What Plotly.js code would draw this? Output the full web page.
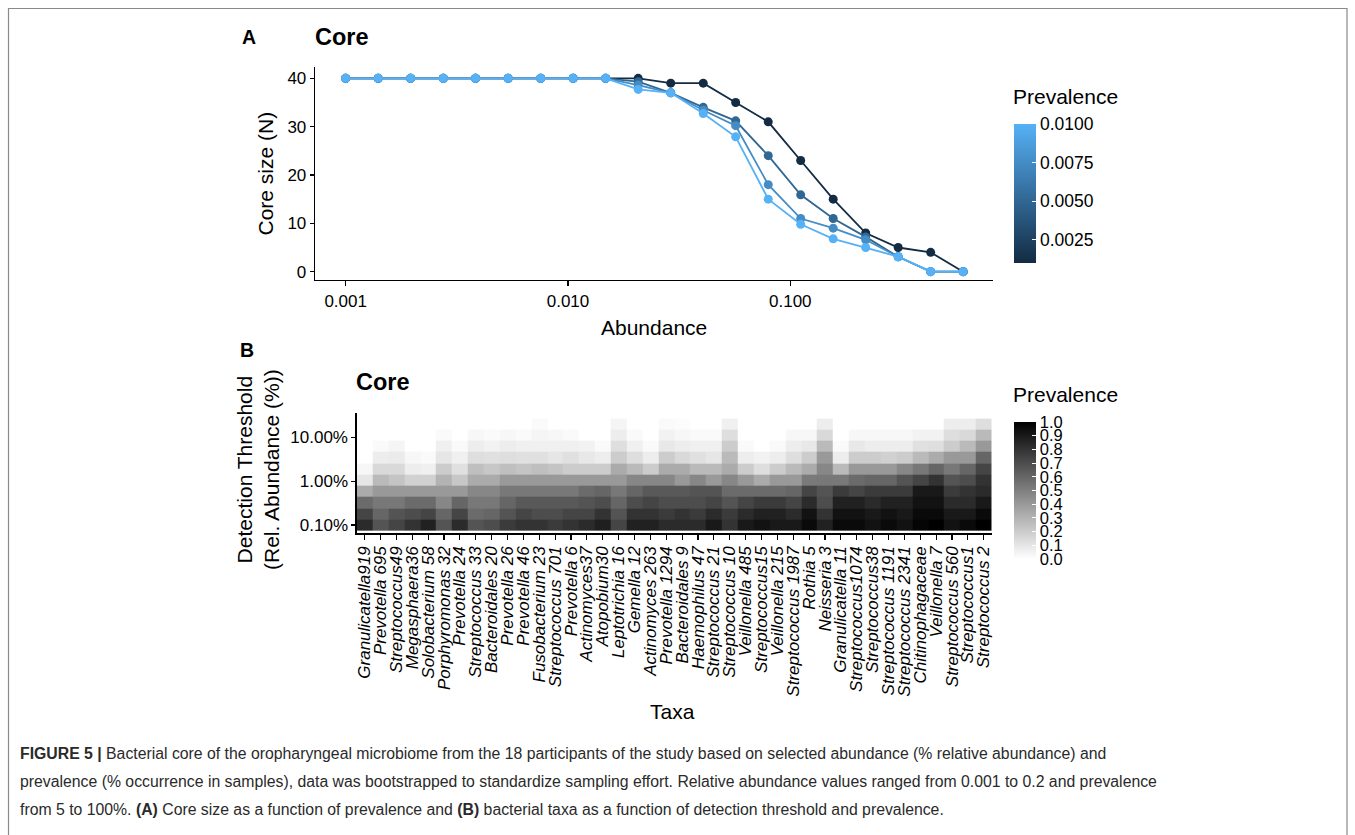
<!DOCTYPE html>
<html>
<head>
<meta charset="utf-8">
<script src="https://cdn.plot.ly/plotly-3.0.1.min.js"></script>
<style>
html,body{margin:0;padding:0;background:#fff;}
#chart{width:1355px;height:835px;}
</style>
</head>
<body>
<div id="chart"></div>
<script>
// ---------------- Panel A data ----------------
const abundance = [0.001, 0.0014, 0.00196, 0.00275, 0.00384, 0.00538, 0.00754, 0.01055, 0.01478, 0.0207,
                   0.029, 0.0406, 0.0568, 0.0796, 0.1114, 0.156, 0.2184, 0.3058, 0.4281, 0.5995];
const prevalenceLevels = [0.001, 0.005, 0.0075, 0.01];
const coreP0010 = [40,40,40,40,40,40,40,40,40,40, 39,39,35,31,23,15,8,5,4,0];
const coreP0050 = [40,40,40,40,40,40,40,40,40,39.3, 37,34,31.2,24,15.9,11,7.2,3.1,0,0];
const coreP0075 = [40,40,40,40,40,40,40,40,40,38.6, 37,33.4,30.2,18,11,9,6.6,3.1,0,0];
const coreP0100 = [40,40,40,40,40,40,40,40,40,37.7, 37,32.7,27.9,15,9.8,6.8,5,3.1,0,0];
const coreSeries = [coreP0010, coreP0050, coreP0075, coreP0100];
const abundanceTicks = [0.001, 0.01, 0.1];
const abundanceTickText = ['0.001', '0.010', '0.100'];
const coreTicks = [0, 10, 20, 30, 40];
const prevATicks = [0.0025, 0.005, 0.0075, 0.01];
const prevATickText = ['0.0025', '0.0050', '0.0075', '0.0100'];

// ---------------- Panel B data ----------------
const taxa = ['Granulicatella919','Prevotella 695','Streptococcus49','Megasphaera36','Solobacterium 58',
  'Porphyromonas 32','Prevotella 24','Streptococcus 33','Bacteroidales 20','Prevotella 26',
  'Prevotella 46','Fusobacterium 23','Streptococcus 701','Prevotella 6','Actinomyces37',
  'Atopobium30','Leptotrichia 16','Gemella 12','Actinomyces 263','Prevotella 1294',
  'Bacteroidales 9','Haemophilus 47','Streptococcus 21','Streptococcus 10','Veillonella 485',
  'Streptococcus15','Veillonella 215','Streptococcus 1987','Rothia 5','Neisseria 3',
  'Granulicatella 11','Streptococcus1074','Streptococcus38','Streptococcus 1191','Streptococcus 2341',
  'Chitinophagaceae','Veillonella 7','Streptococcus 560','Streptococcus1','Streptococcus 2'];
const detectionThresholds = [0.001, 0.0018, 0.00325, 0.00586, 0.01056, 0.01903, 0.0343, 0.06183, 0.1114, 0.2];
const detectionTicks = [0.001, 0.01, 0.1];
const detectionTickText = ['0.10%', '1.00%', '10.00%'];
// prevalence of each taxon at each detection threshold (lowest threshold first)
const taxaPrevalence = [
  [0.83,0.73,0.58,0.33,0.10,0.03,0,0,0,0],
  [0.67,0.60,0.53,0.40,0.27,0.15,0.07,0.02,0,0],
  [0.73,0.67,0.53,0.40,0.23,0.15,0.08,0.04,0,0],
  [0.80,0.70,0.58,0.40,0.18,0.07,0.03,0,0,0],
  [0.87,0.73,0.58,0.40,0.18,0.06,0.02,0,0,0],
  [0.67,0.60,0.47,0.40,0.30,0.20,0.10,0.06,0.02,0],
  [0.83,0.73,0.60,0.40,0.22,0.12,0.06,0.02,0,0],
  [0.67,0.58,0.53,0.47,0.33,0.25,0.13,0.07,0.03,0],
  [0.70,0.60,0.53,0.47,0.33,0.22,0.12,0.05,0.02,0],
  [0.77,0.67,0.60,0.53,0.40,0.25,0.13,0.07,0.03,0],
  [0.80,0.73,0.65,0.53,0.40,0.23,0.12,0.06,0.02,0],
  [0.80,0.70,0.65,0.53,0.40,0.25,0.12,0.06,0.04,0.02],
  [0.77,0.70,0.65,0.53,0.40,0.23,0.10,0.06,0.03,0],
  [0.80,0.73,0.65,0.53,0.40,0.20,0.12,0.06,0.02,0],
  [0.83,0.73,0.67,0.58,0.40,0.20,0.09,0.05,0,0],
  [0.88,0.80,0.70,0.60,0.40,0.20,0.07,0.02,0,0],
  [0.73,0.67,0.60,0.53,0.40,0.33,0.20,0.13,0.07,0.04],
  [0.87,0.80,0.70,0.60,0.47,0.27,0.13,0.06,0.02,0],
  [0.87,0.80,0.73,0.65,0.47,0.20,0.07,0.02,0,0],
  [0.83,0.77,0.70,0.65,0.47,0.33,0.20,0.09,0.05,0.02],
  [0.83,0.80,0.70,0.65,0.40,0.33,0.15,0.07,0.03,0.01],
  [0.83,0.77,0.70,0.67,0.47,0.27,0.12,0.06,0.02,0],
  [0.90,0.83,0.73,0.67,0.40,0.27,0.10,0.06,0.02,0],
  [0.80,0.77,0.67,0.58,0.47,0.33,0.27,0.20,0.13,0.06],
  [0.90,0.83,0.73,0.58,0.40,0.20,0.07,0.02,0,0],
  [0.93,0.87,0.77,0.58,0.33,0.13,0.05,0,0,0],
  [0.90,0.87,0.77,0.58,0.40,0.20,0.07,0.02,0,0],
  [0.90,0.83,0.73,0.60,0.40,0.27,0.13,0.07,0.03,0],
  [0.96,0.93,0.83,0.73,0.52,0.33,0.20,0.09,0.03,0],
  [0.87,0.80,0.70,0.67,0.53,0.47,0.40,0.27,0.15,0.07],
  [0.96,0.93,0.87,0.77,0.53,0.27,0.07,0.02,0,0],
  [0.96,0.93,0.87,0.73,0.58,0.40,0.20,0.09,0.03,0],
  [0.93,0.90,0.83,0.77,0.60,0.40,0.20,0.07,0.03,0],
  [0.96,0.93,0.87,0.77,0.60,0.40,0.18,0.07,0.03,0],
  [0.93,0.90,0.87,0.77,0.67,0.47,0.20,0.07,0.03,0],
  [0.98,0.96,0.93,0.90,0.73,0.53,0.27,0.12,0.05,0],
  [1.00,0.96,0.93,0.90,0.80,0.60,0.33,0.13,0.05,0],
  [0.93,0.90,0.83,0.77,0.67,0.53,0.40,0.20,0.13,0.07],
  [0.96,0.90,0.83,0.80,0.70,0.60,0.40,0.27,0.15,0.07],
  [1.00,0.96,0.90,0.83,0.80,0.73,0.60,0.40,0.27,0.13]
];
const prevBTicks = [0,0.1,0.2,0.3,0.4,0.5,0.6,0.7,0.8,0.9,1.0];
const prevBTickText = ['0.0','0.1','0.2','0.3','0.4','0.5','0.6','0.7','0.8','0.9','1.0'];

// ---------------- helpers ----------------
const W = 1355, H = 835;
const px = v => v / W;
const py = v => 1 - v / H;
const FONT = 'Liberation Sans, Arial, Helvetica, sans-serif';
const blueLow = [19, 43, 67], blueHigh = [86, 177, 247];
function blueAt(p) {
  const t = (p - 0.001) / (0.01 - 0.001);
  const c = blueLow.map((v, i) => Math.round(v + (blueHigh[i] - v) * t));
  return 'rgb(' + c.join(',') + ')';
}

const traces = [];
coreSeries.forEach((ys, i) => {
  const p = prevalenceLevels[i];
  traces.push({
    type: 'scatter', mode: 'lines+markers', xaxis: 'x', yaxis: 'y',
    x: abundance, y: ys, name: String(p), showlegend: false,
    line: {color: blueAt(p), width: 1.8},
    marker: {size: 9, color: abundance.map(() => p), coloraxis: 'coloraxis'},
    hoverinfo: 'x+y'
  });
});

const zGrid = detectionThresholds.map((_, r) => taxaPrevalence.map(col => col[r]));
traces.push({
  type: 'heatmap', xaxis: 'x2', yaxis: 'y2',
  x: taxa, y: detectionThresholds, z: zGrid,
  coloraxis: 'coloraxis2', xgap: 0, ygap: 0
});

const axisCommon = {
  showline: true, linecolor: '#000', linewidth: 1.3, ticks: 'outside', ticklen: 5,
  tickwidth: 1.2, tickcolor: '#000', showgrid: false, zeroline: false,
  tickfont: {family: FONT, size: 17, color: '#000'}, automargin: false, fixedrange: true
};

const layout = {
  width: W, height: H,
  margin: {l: 0, r: 0, t: 0, b: 0, pad: 0},
  paper_bgcolor: '#fff', plot_bgcolor: '#fff',
  font: {family: FONT, color: '#000'},
  showlegend: false,
  xaxis: Object.assign({}, axisCommon, {
    domain: [px(315), px(993)], anchor: 'y', type: 'log', range: [-3.138, -0.088],
    tickmode: 'array', tickvals: abundanceTicks, ticktext: abundanceTickText
  }),
  yaxis: Object.assign({}, axisCommon, {
    domain: [py(280), py(67)], anchor: 'x', range: [-1.72, 42.34],
    tickmode: 'array', tickvals: coreTicks, ticklen: 4
  }),
  xaxis2: Object.assign({}, axisCommon, {
    domain: [px(356.7), px(991.7)], anchor: 'y2', type: 'category', range: [-0.5, 39.5],
    tickmode: 'array', tickvals: taxa, ticktext: taxa, tickangle: -90,
    tickfont: {family: FONT, size: 17, color: '#000', style: 'italic'}
  }),
  yaxis2: Object.assign({}, axisCommon, {
    domain: [py(533.3), py(412.7)], anchor: 'x2', type: 'log', range: [-3.19, -0.436],
    tickmode: 'array', tickvals: detectionTicks, ticktext: detectionTickText, ticklen: 4
  }),
  coloraxis: {
    cmin: 0.001, cmax: 0.01, showscale: true,
    colorscale: [[0, 'rgb(19,43,67)'], [1, 'rgb(86,177,247)']],
    colorbar: {
      x: px(1014), xanchor: 'left', y: py((124 + 263) / 2), yanchor: 'middle',
      len: (263 - 124) / H, lenmode: 'fraction', thickness: 22, thicknessmode: 'pixels',
      xpad: 0, ypad: 0, outlinewidth: 0, ticks: 'inside', ticklen: 4, tickcolor: '#fff', tickwidth: 1,
      tickmode: 'array', tickvals: prevATicks, ticktext: prevATickText,
      tickfont: {family: FONT, size: 17.5, color: '#000'}, title: {text: ''}
    }
  },
  coloraxis2: {
    cmin: 0, cmax: 1, showscale: true,
    colorscale: [[0, '#ffffff'], [1, '#000000']],
    colorbar: {
      x: px(1014), xanchor: 'left', y: py((422 + 559) / 2), yanchor: 'middle',
      len: (559 - 422) / H, lenmode: 'fraction', thickness: 22, thicknessmode: 'pixels',
      xpad: 0, ypad: 0, outlinewidth: 0, ticks: 'inside', ticklen: 4, tickcolor: '#fff', tickwidth: 1,
      tickmode: 'array', tickvals: prevBTicks, ticktext: prevBTickText,
      tickfont: {family: FONT, size: 16.5, color: '#000'}, title: {text: ''}
    }
  },
  shapes: [
    {type: 'rect', xref: 'paper', yref: 'paper', x0: px(8.5), x1: px(1347), y0: -0.05, y1: py(8.5),
     line: {color: '#8a8a8a', width: 1.2}, fillcolor: 'rgba(0,0,0,0)', layer: 'below'}
  ],
  annotations: []
};

function ann(text, x, y, size, opts) {
  layout.annotations.push(Object.assign({
    text: text, x: px(x), y: py(y), xref: 'paper', yref: 'paper',
    showarrow: false, xanchor: 'center', yanchor: 'middle',
    font: {family: FONT, size: size, color: '#000'}
  }, opts || {}));
}
// Panel A texts
ann('<b>A</b>', 240, 37, 19.5, {xanchor: 'left'});
ann('<b>Core</b>', 313, 37, 23.5, {xanchor: 'left'});
ann('Core size (N)', 265, 173.5, 21, {textangle: -90});
ann('Abundance', 654, 327, 21);
ann('Prevalence', 1011, 96, 21, {xanchor: 'left'});
// Panel B texts
ann('<b>B</b>', 238, 350, 19.5, {xanchor: 'left'});
ann('<b>Core</b>', 354, 382, 23.5, {xanchor: 'left'});
ann('Detection Threshold<br>(Rel. Abundance (%))', 258, 470, 21, {textangle: -90});
ann('Taxa', 672, 711, 21);
ann('Prevalence', 1011, 394, 21, {xanchor: 'left'});
// Caption
const capFont = 'Liberation Sans, Arial, sans-serif';
const capLines = [
  '<b>FIGURE 5 |</b> Bacterial core of the oropharyngeal microbiome from the 18 participants of the study based on selected abundance (% relative abundance) and',
  'prevalence (% occurrence in samples), data was bootstrapped to standardize sampling effort. Relative abundance values ranged from 0.001 to 0.2 and prevalence',
  'from 5 to 100%. <b>(A)</b> Core size as a function of prevalence and <b>(B)</b> bacterial taxa as a function of detection threshold and prevalence.'
];
[753, 781.5, 809.5].forEach((y, i) => {
  ann(capLines[i], 18, y, 15.8, {xanchor: 'left', font: {family: capFont, size: 15.8, color: '#2a2a2a'}});
});

Plotly.newPlot('chart', traces, layout, {displayModeBar: false, staticPlot: true});
</script>
</body>
</html>
